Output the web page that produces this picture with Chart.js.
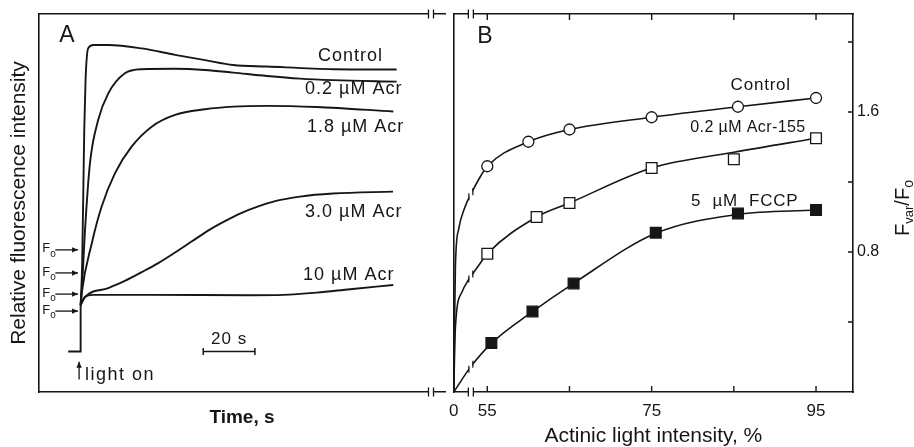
<!DOCTYPE html>
<html>
<head>
<meta charset="utf-8">
<title>Fluorescence induction and Fvar/Fo</title>
<script src="https://cdn.jsdelivr.net/npm/chart.js@4.4.1/dist/chart.umd.min.js"></script>
<style>
  html, body { margin: 0; padding: 0; background: #fff; }
  #wrap { position: relative; width: 914px; height: 447px; overflow: hidden; }
  #panelA { position: absolute; left: 0; top: 0; }
  #panelB { position: absolute; left: 440px; top: 0; }
</style>
</head>
<body>
<div id="wrap">
  <canvas id="panelA" width="446" height="447"></canvas>
  <canvas id="panelB" width="474" height="447"></canvas>
</div>
<script>
const ink = '#161616';
const fontFamily = '"Liberation Sans", Arial, Helvetica, sans-serif';

// ---- Panel A: fluorescence traces (time in s, fluorescence in relative units)
const darkTime = [-4.8, 0, 0];
const darkLevel = [10.7, 10.7, 23.0];

const controlTime = [0, 0.6, 1.4, 1.9, 2.9, 4.9, 10.7, 23.6, 36.5, 48.1, 59.0, 72.0, 97.7, 122.2];
const controlFluo = [23.0, 34.1, 69.3, 82.5, 90.9, 91.8, 91.8, 90.9, 89.2, 87.8, 86.5, 86.1, 85.4, 85.3];

const acr02Time = [0, 0.4, 1.7, 3.6, 6.8, 10.7, 17.1, 23.6, 36.5, 48.1, 59.0, 72.0, 84.8, 97.7, 122.2];
const acr02Fluo = [23.0, 26.2, 42.9, 60.5, 72.0, 79.0, 84.3, 85.4, 85.5, 85.2, 84.5, 83.6, 82.9, 82.5, 82.1];

const acr18Time = [0, 0.4, 4.3, 8.1, 13.3, 19.7, 27.5, 36.5, 48.1, 59.0, 72.0, 91.3, 120.9];
const acr18Fluo = [23.0, 26.1, 39.3, 49.0, 57.9, 64.9, 70.2, 73.3, 74.8, 75.5, 75.7, 75.4, 74.2];

const acr30Time = [0, 1.7, 10.7, 17.1, 23.6, 30.0, 36.5, 42.9, 49.3, 55.8, 62.3, 68.7, 75.2, 84.8, 97.6, 120.8];
const acr30Fluo = [23.0, 25.1, 27.5, 29.4, 31.7, 34.1, 36.9, 39.8, 42.7, 45.2, 47.4, 49.1, 50.5, 51.7, 52.5, 53.0];

const acr10Time = [0, 1.7, 4.8, 26.8, 65.5, 78.4, 91.3, 104.2, 120.9];
const acr10Fluo = [23.0, 25.2, 25.7, 25.7, 25.6, 25.7, 26.3, 27.2, 28.3];

const foLevels = [37.6, 31.5, 25.9, 21.4];
const scaleBarStart = 47.4;
const scaleBarLength = 20;

// ---- Panel B: Fvar/Fo against actinic light intensity (%)
const lightControl = [55, 60, 65, 75, 85.5, 95];
const ratioControl = [1.29, 1.43, 1.50, 1.57, 1.63, 1.68];
const lightAcr = [55, 61, 65, 75, 85, 95];
const ratioAcr = [0.79, 1.00, 1.08, 1.28, 1.33, 1.45];
const lightFccp = [55.5, 60.5, 65.5, 75.5, 85.5, 95];
const ratioFccp = [0.28, 0.46, 0.62, 0.91, 1.02, 1.04];

// hand-drawn curves through the points, starting at the origin
const fitLightControl = [0, 2.4, 5.2, 15.2, 35.5, 53, 53.9, 55, 60, 65, 75, 85.5, 95];
const fitRatioControl = [0, 0.35, 0.72, 0.93, 1.06, 1.13, 1.21, 1.29, 1.43, 1.50, 1.57, 1.63, 1.68];
const fitLightAcr = [0, 5.2, 25.2, 45.4, 53, 53.9, 55, 61, 65, 75, 85, 95];
const fitRatioAcr = [0, 0.37, 0.57, 0.64, 0.66, 0.72, 0.79, 1.00, 1.08, 1.28, 1.37, 1.45];
const fitLightFccp = [0, 53, 55.5, 60.5, 65.5, 75.5, 85.5, 95];
const fitRatioFccp = [0, 0.145, 0.278, 0.459, 0.621, 0.907, 1.015, 1.04];

const lightTickValues = [0, 55, 65, 75, 85, 95];
const lightTickLabels = ['0', '55', '', '75', '', '95'];
const ratioTickValues = [0.4, 0.8, 1.2, 1.6, 2.0];
const ratioTickLabels = ['', '0.8', '', '1.6', ''];
const lightBreak = 53;

Chart.defaults.font.family = fontFamily;
Chart.defaults.color = ink;
Chart.defaults.animation = false;

// linear axis with the 0..break stretch squeezed into a short piece
class BrokenLinearScale extends Chart.LinearScale {
  static id = 'brokenLinear';
  static defaults = Chart.LinearScale.defaults;

  getPixelForValue(value) {
    if (value === null || value === undefined) return NaN;
    const { breakAt, breakFraction } = this.options;
    let d;
    if (value <= breakAt) {
      d = (value - this.min) / (breakAt - this.min) * breakFraction;
    } else {
      d = breakFraction + (value - breakAt) / (this.max - breakAt) * (1 - breakFraction);
    }
    return this.getPixelForDecimal(d);
  }

  getValueForPixel(pixel) {
    const { breakAt, breakFraction } = this.options;
    const d = this.getDecimalForPixel(pixel);
    if (d <= breakFraction) return this.min + d / breakFraction * (breakAt - this.min);
    return breakAt + (d - breakFraction) / (1 - breakFraction) * (this.max - breakAt);
  }
}
Chart.register(BrokenLinearScale);

const toPoints = (xs, ys) => xs.map((x, i) => ({ x, y: ys[i] }));
const hidden = { display: false };
const noGrid = { display: false, drawTicks: false, tickLength: 0 };
const frame = { display: true, color: ink, width: 1.6 };

function label(ctx, str, x, y, size, opts = {}) {
  ctx.save();
  ctx.font = (opts.weight || '') + ' ' + size + 'px ' + fontFamily;
  ctx.fillStyle = ink;
  ctx.textAlign = opts.align || 'left';
  ctx.textBaseline = opts.baseline || 'middle';
  if ('letterSpacing' in ctx) ctx.letterSpacing = (opts.spacing || 0) + 'px';
  ctx.fillText(str, x, y);
  ctx.restore();
}

function axisBreak(ctx, x, y, gap, h) {
  ctx.save();
  ctx.fillStyle = '#fff';
  ctx.fillRect(x - gap / 2, y - 2, gap, 4);
  ctx.strokeStyle = ink;
  ctx.lineWidth = 1.3;
  ctx.beginPath();
  [x - gap / 2, x + gap / 2].forEach(px => {
    ctx.moveTo(px, y - h / 2);
    ctx.lineTo(px, y + h / 2);
  });
  ctx.stroke();
  ctx.restore();
}

function arrow(ctx, x1, y1, x2, y2, head) {
  const a = Math.atan2(y2 - y1, x2 - x1);
  ctx.save();
  ctx.strokeStyle = ink;
  ctx.fillStyle = ink;
  ctx.lineWidth = 1.3;
  ctx.beginPath();
  ctx.moveTo(x1, y1);
  ctx.lineTo(x2, y2);
  ctx.stroke();
  ctx.beginPath();
  ctx.moveTo(x2, y2);
  ctx.lineTo(x2 - head * Math.cos(a) + head * 0.45 * Math.sin(a), y2 - head * Math.sin(a) - head * 0.45 * Math.cos(a));
  ctx.lineTo(x2 - head * Math.cos(a) - head * 0.45 * Math.sin(a), y2 - head * Math.sin(a) + head * 0.45 * Math.cos(a));
  ctx.closePath();
  ctx.fill();
  ctx.restore();
}

// ---------------- Panel A ----------------
const panelAExtras = {
  id: 'panelAExtras',
  afterDraw(chart, args, opts) {
    const { ctx, chartArea, scales: { x, y } } = chart;

    // break in the frame between the two panels
    axisBreak(ctx, chartArea.right - 14, chartArea.top, 5, 9);
    axisBreak(ctx, chartArea.right - 14, chartArea.bottom, 5, 9);

    // Fo markers
    foLevels.forEach(v => {
      const py = y.getPixelForValue(v);
      const x1 = x.getPixelForValue(-9.8);
      const x2 = x.getPixelForValue(-1.0);
      arrow(ctx, x1, py, x2, py, 6);
      label(ctx, 'F', x1 - 13, py - 1, 13);
      label(ctx, 'o', x1 - 5, py + 4, 10);
    });

    // light on
    const lx = x.getPixelForValue(-0.6);
    arrow(ctx, lx, y.getPixelForValue(3.3), lx, y.getPixelForValue(8.0), 6);
    label(ctx, 'light on', lx + 6, y.getPixelForValue(4.4), 18, { spacing: 1.5 });

    // 20 s scale bar
    const bx1 = x.getPixelForValue(scaleBarStart);
    const bx2 = x.getPixelForValue(scaleBarStart + scaleBarLength);
    const by = y.getPixelForValue(10.7);
    ctx.save();
    ctx.strokeStyle = ink;
    ctx.lineWidth = 1.5;
    ctx.beginPath();
    ctx.moveTo(bx1, by); ctx.lineTo(bx2, by);
    ctx.moveTo(bx1, by - 3.5); ctx.lineTo(bx1, by + 3.5);
    ctx.moveTo(bx2, by - 3.5); ctx.lineTo(bx2, by + 3.5);
    ctx.stroke();
    ctx.restore();
    label(ctx, '20 s', (bx1 + bx2) / 2, by - 12, 17, { align: 'center', spacing: 1 });

    opts.curveLabels.forEach(l => {
      label(ctx, l.text, x.getPixelForValue(l.t), y.getPixelForValue(l.v), 18, { spacing: 1 });
    });
    label(ctx, 'A', x.getPixelForValue(-5.3), y.getPixelForValue(94.4), 23, { align: 'center' });
  }
};

const traceA = (xs, ys, straight) => ({
  data: toPoints(xs, ys),
  borderColor: ink,
  borderWidth: 1.9,
  pointRadius: 0,
  cubicInterpolationMode: straight ? 'default' : 'monotone',
  tension: 0
});

new Chart(document.getElementById('panelA'), {
  type: 'line',
  data: {
    datasets: [
      traceA(darkTime, darkLevel, true),
      traceA(controlTime, controlFluo),
      traceA(acr02Time, acr02Fluo),
      traceA(acr18Time, acr18Fluo),
      traceA(acr30Time, acr30Fluo),
      traceA(acr10Time, acr10Fluo)
    ]
  },
  options: {
    responsive: false,
    maintainAspectRatio: false,
    events: [],
    layout: { padding: { left: 0, top: 0, right: 1, bottom: 0 } },
    plugins: {
      legend: hidden,
      tooltip: { enabled: false },
      panelAExtras: {
        curveLabels: [
          { text: 'Control', t: 91.8, v: 88.9 },
          { text: '0.2 \u00b5M Acr', t: 86.8, v: 80.2 },
          { text: '1.8 \u00b5M Acr', t: 87.5, v: 70.1 },
          { text: '3.0 \u00b5M Acr', t: 86.8, v: 47.6 },
          { text: '10 \u00b5M Acr', t: 86.0, v: 31.0 }
        ]
      }
    },
    scales: {
      x: {
        type: 'linear', position: 'bottom', min: -16.1, max: 140.9,
        grid: noGrid, ticks: hidden, border: frame,
        title: { display: true, text: 'Time, s', color: ink, font: { size: 19, weight: 'bold' }, padding: { top: 0, bottom: 18 } },
        afterFit: s => { s.height = 55; }
      },
      xTop: {
        type: 'linear', position: 'top', min: -16.1, max: 140.9,
        grid: noGrid, ticks: hidden, border: frame,
        afterFit: s => { s.height = 14; }
      },
      y: {
        type: 'linear', position: 'left', min: 0, max: 100,
        grid: noGrid, ticks: hidden, border: frame,
        title: { display: true, text: 'Relative fluorescence intensity', color: ink, font: { size: 21 }, padding: { top: 7, bottom: 0 } },
        afterFit: s => { s.width = 39; }
      }
    }
  },
  plugins: [panelAExtras]
});

// ---------------- Panel B ----------------
const panelBExtras = {
  id: 'panelBExtras',
  afterDraw(chart, args, opts) {
    const { ctx, chartArea, scales: { x, y } } = chart;

    // inward tick marks on bottom, top and right edges
    ctx.save();
    ctx.strokeStyle = ink;
    ctx.lineWidth = 1.4;
    ctx.beginPath();
    lightTickValues.filter(v => v > 0).forEach(v => {
      const px = x.getPixelForValue(v);
      ctx.moveTo(px, chartArea.bottom); ctx.lineTo(px, chartArea.bottom - 6);
      ctx.moveTo(px, chartArea.top); ctx.lineTo(px, chartArea.top + 6);
    });
    ratioTickValues.forEach(v => {
      const py = y.getPixelForValue(v);
      ctx.moveTo(chartArea.right, py); ctx.lineTo(chartArea.right - 5, py);
    });
    ctx.stroke();
    ctx.restore();

    // axis break between 0 and 55 %
    const bx = x.getPixelForValue(lightBreak);
    axisBreak(ctx, bx, chartArea.top, 5, 9);
    axisBreak(ctx, bx, chartArea.bottom, 5, 9);

    // same break marked on each curve
    opts.fitDatasets.forEach(i => {
      const ds = chart.data.datasets[i];
      const idx = ds.data.findIndex(p => p.x === lightBreak);
      const pt = chart.getDatasetMeta(i).data[idx];
      if (!pt) return;
      ctx.save();
      ctx.fillStyle = '#fff';
      ctx.fillRect(pt.x - 1.5, pt.y - 4, 3, 8);
      ctx.strokeStyle = ink;
      ctx.lineWidth = 1.2;
      ctx.beginPath();
      ctx.moveTo(pt.x - 2, pt.y - 1); ctx.lineTo(pt.x - 2, pt.y + 6);
      ctx.moveTo(pt.x + 2, pt.y - 6); ctx.lineTo(pt.x + 2, pt.y + 1);
      ctx.stroke();
      ctx.restore();
    });

    opts.curveLabels.forEach(l => {
      label(ctx, l.text, x.getPixelForValue(l.x), y.getPixelForValue(l.y), l.size, { spacing: l.spacing });
    });
    label(ctx, 'B', x.getPixelForValue(54.7), y.getPixelForValue(2.03), 23, { align: 'center' });

    // right axis title F_var/F_o, written bottom to top
    const parts = [
      { t: 'F', size: 20, dy: 0 },
      { t: 'var', size: 13, dy: 4 },
      { t: '/', size: 20, dy: 0 },
      { t: 'F', size: 20, dy: 0 },
      { t: 'o', size: 14, dy: 4 }
    ];
    ctx.save();
    ctx.translate(chartArea.right + 49, (chartArea.top + chartArea.bottom) / 2 + 5);
    ctx.rotate(-Math.PI / 2);
    ctx.fillStyle = ink;
    ctx.textBaseline = 'alphabetic';
    let total = 0;
    parts.forEach(p => { ctx.font = p.size + 'px ' + fontFamily; p.w = ctx.measureText(p.t).width; total += p.w; });
    let cx = -total / 2;
    parts.forEach(p => {
      ctx.font = p.size + 'px ' + fontFamily;
      ctx.fillText(p.t, cx, 7 + p.dy);
      cx += p.w;
    });
    ctx.restore();
  }
};

const markersB = (xs, ys, style, fill, radius) => ({
  data: toPoints(xs, ys),
  showLine: false,
  pointStyle: style,
  pointRadius: radius,
  pointBackgroundColor: fill,
  pointBorderColor: ink,
  pointBorderWidth: 1.3
});

const fitB = (xs, ys) => ({
  data: toPoints(xs, ys),
  borderColor: ink,
  borderWidth: 1.6,
  pointRadius: 0,
  cubicInterpolationMode: 'monotone'
});

const brokenAxis = {
  type: 'brokenLinear', min: 0, max: 99.5,
  breakAt: lightBreak, breakFraction: 0.0429
};

new Chart(document.getElementById('panelB'), {
  type: 'line',
  data: {
    datasets: [
      markersB(lightControl, ratioControl, 'circle', '#fff', 5.5),
      markersB(lightAcr, ratioAcr, 'rect', '#fff', 7.6),
      markersB(lightFccp, ratioFccp, 'rect', ink, 7.6),
      fitB(fitLightControl, fitRatioControl),
      fitB(fitLightAcr, fitRatioAcr),
      fitB(fitLightFccp, fitRatioFccp)
    ]
  },
  options: {
    responsive: false,
    maintainAspectRatio: false,
    events: [],
    layout: { padding: 0 },
    plugins: {
      legend: hidden,
      tooltip: { enabled: false },
      panelBExtras: {
        fitDatasets: [3, 4, 5],
        curveLabels: [
          { text: 'Control', x: 84.6, y: 1.754, size: 17, spacing: 0.8 },
          { text: '0.2 \u00b5M Acr-155', x: 79.7, y: 1.509, size: 16, spacing: 0.4 },
          { text: '5  \u00b5M  FCCP', x: 79.8, y: 1.091, size: 17, spacing: 0.8 }
        ]
      }
    },
    scales: {
      x: {
        ...brokenAxis, position: 'bottom',
        grid: noGrid, border: frame,
        afterBuildTicks: s => { s.ticks = lightTickValues.map(value => ({ value })); },
        ticks: {
          autoSkip: false, maxRotation: 0, padding: 9, color: ink,
          font: { size: 17 },
          callback: (v, i) => lightTickLabels[i]
        },
        title: { display: true, text: 'Actinic light intensity, %', color: ink, font: { size: 21, lineHeight: 1 }, padding: { top: 0, bottom: 0 } },
        afterFit: s => { s.height = 55; }
      },
      xTop: {
        ...brokenAxis, position: 'top',
        grid: noGrid, ticks: hidden, border: frame,
        afterFit: s => { s.height = 14; }
      },
      y: {
        type: 'linear', position: 'right', min: 0, max: 2.16,
        grid: noGrid, border: frame,
        afterBuildTicks: s => { s.ticks = ratioTickValues.map(value => ({ value })); },
        ticks: {
          autoSkip: false, padding: 4, color: ink,
          font: { size: 16 },
          callback: (v, i) => ratioTickLabels[i]
        },
        afterFit: s => { s.width = 61; }
      },
      yLeft: {
        type: 'linear', position: 'left',
        grid: noGrid, ticks: hidden, border: frame,
        afterFit: s => { s.width = 5; }
      }
    }
  },
  plugins: [panelBExtras]
});
</script>
</body>
</html>
